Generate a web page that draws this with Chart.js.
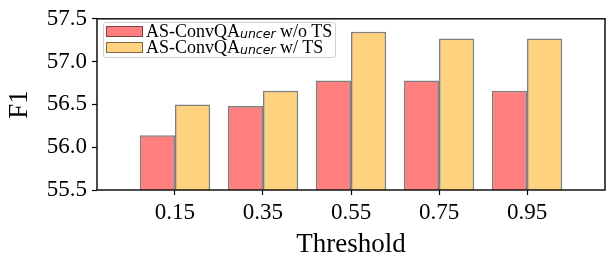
<!DOCTYPE html>
<html><head><meta charset="utf-8">
<script src="https://cdn.jsdelivr.net/npm/chart.js@4.4.0/dist/chart.umd.min.js"></script>
<style>
html,body{margin:0;padding:0;background:#fff;}
#wrap{position:relative;width:609px;height:262px;}
#legend{position:absolute;left:103px;top:22px;border:1px solid #d0d0d0;border-radius:3px;background:rgba(255,255,255,0.85);padding:1px 3px 2px 2px;font-family:"Liberation Serif",serif;font-size:18px;color:#000;}
.row{display:flex;align-items:center;white-space:pre;height:15.5px;}
.row span{white-space:pre;}
.sw{box-sizing:border-box;width:37px;height:11px;border:1.5px solid rgba(0,0,0,0.5);margin-right:3px;}
.sub{font-family:"DejaVu Sans",sans-serif;font-style:italic;font-size:12.5px;position:relative;top:2px;}
</style></head>
<body><div id="wrap"><canvas id="c" width="609" height="262"></canvas><div id="legend"></div></div>
<script>
const thresholds = ['0.15', '0.35', '0.55', '0.75', '0.95'];
const withoutTS = [56.14, 56.48, 56.78, 56.78, 56.66];
const withTS = [56.50, 56.66, 57.35, 57.27, 57.27];
const yTicks = [55.5, 56.0, 56.5, 57.0, 57.5];
const seriesBase = 'AS-ConvQA';
const seriesSub = 'uncer';
const seriesSuffix = [' w/o TS', ' w/ TS'];
const seriesColors = ['rgba(255,0,0,0.5)', 'rgba(255,165,0,0.5)'];

const serif = '"Liberation Serif", "Times New Roman", serif';
const seriesValues = [withoutTS, withTS];

const datasets = seriesValues.map((vals, k) => ({
  label: seriesBase + '_' + seriesSub + seriesSuffix[k],
  data: vals.map((v, i) => ({x: i, y: v})),
  backgroundColor: seriesColors[k],
  borderColor: 'rgba(0,0,0,0.5)',
  borderWidth: 1.5,
  categoryPercentage: 0.8,
  barPercentage: 1.0
}));

const frame = {
  id: 'frame',
  afterDraw(chart) {
    const {ctx, chartArea: a} = chart;
    ctx.save();
    ctx.strokeStyle = '#111';
    ctx.lineWidth = 1.5;
    ctx.strokeRect(a.left, a.top, a.right - a.left, a.bottom - a.top);
    ctx.restore();
  }
};

new Chart(document.getElementById('c'), {
  type: 'bar',
  data: {datasets},
  plugins: [frame],
  options: {
    responsive: false,
    animation: false,
    devicePixelRatio: 1,
    layout: {padding: {top: 14, right: 4, left: 0, bottom: 0}},
    plugins: {legend: {display: false}, tooltip: {enabled: false}},
    scales: {
      x: {
        type: 'linear',
        offset: false,
        min: -0.886,
        max: 4.886,
        afterBuildTicks: s => { s.ticks = thresholds.map((t, i) => ({value: i})); },
        afterFit: s => { s.height = 72; },
        ticks: {
          autoSkip: false, maxRotation: 0, color: '#000', padding: 4,
          font: {family: serif, size: 23},
          callback: v => thresholds[v] !== undefined ? thresholds[v] : ''
        },
        grid: {offset: false, drawOnChartArea: false, drawTicks: true, tickLength: 5, tickColor: '#000', tickWidth: 1.2},
        border: {display: false},
        title: {display: true, text: 'Threshold', color: '#000', font: {family: serif, size: 27}, padding: {top: 0, bottom: 1}}
      },
      y: {
        min: yTicks[0],
        max: yTicks[yTicks.length - 1],
        afterBuildTicks: s => { s.ticks = yTicks.map(v => ({value: v})); },
        afterFit: s => { s.width = 97; },
        ticks: {
          color: '#000', padding: 5,
          font: {family: serif, size: 23},
          callback: v => Number(v).toFixed(1)
        },
        grid: {drawOnChartArea: false, drawTicks: true, tickLength: 5, tickColor: '#000', tickWidth: 1.2},
        border: {display: false},
        title: {display: true, text: 'F1', color: '#000', font: {family: serif, size: 27}, padding: {top: 4, bottom: 0}}
      }
    }
  }
});

const legend = document.getElementById('legend');
seriesSuffix.forEach((suf, k) => {
  const row = document.createElement('div');
  row.className = 'row';
  const sw = document.createElement('div');
  sw.className = 'sw';
  sw.style.background = seriesColors[k];
  row.appendChild(sw);
  const t1 = document.createElement('span');
  t1.textContent = seriesBase;
  const t2 = document.createElement('span');
  t2.className = 'sub';
  t2.textContent = seriesSub;
  const t3 = document.createElement('span');
  t3.textContent = suf.replace(' ', '\u00a0');
  row.appendChild(t1); row.appendChild(t2); row.appendChild(t3);
  legend.appendChild(row);
});
</script>
</body></html>
